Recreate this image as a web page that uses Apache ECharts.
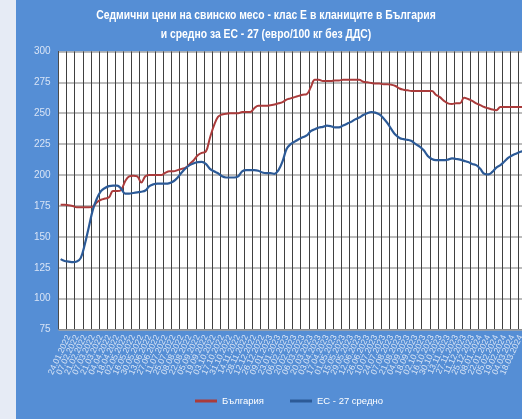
<!DOCTYPE html>
<html>
<head>
<meta charset="utf-8">
<script src="https://cdn.jsdelivr.net/npm/echarts@6/dist/echarts.min.js"></script>
<style>
  html, body { margin: 0; padding: 0; background: #e6ebf5; overflow: hidden; width: 522px; height: 419px; position: relative; }
  /* chart is wider than the window: the plot runs past the right edge, as in the source picture */
  #chart { position: absolute; left: 16px; top: 0; width: 519px; height: 419px; }
</style>
</head>
<body>
<div id="chart"></div>
<script>
// weekly dates, labels shown every second week
var weeks = [
  '10.01.2022','17.01.2022','24.01.2022','31.01.2022','07.02.2022','14.02.2022','21.02.2022','28.02.2022',
  '07.03.2022','14.03.2022','21.03.2022','28.03.2022','04.04.2022','11.04.2022','18.04.2022','25.04.2022',
  '02.05.2022','09.05.2022','16.05.2022','23.05.2022','30.05.2022','06.06.2022','13.06.2022','20.06.2022',
  '27.06.2022','04.07.2022','11.07.2022','18.07.2022','25.07.2022','01.08.2022','08.08.2022','15.08.2022',
  '22.08.2022','29.08.2022','05.09.2022','12.09.2022','19.09.2022','26.09.2022','03.10.2022','10.10.2022',
  '17.10.2022','24.10.2022','31.10.2022','07.11.2022','14.11.2022','21.11.2022','28.11.2022','05.12.2022',
  '12.12.2022','19.12.2022','26.12.2022',
  '02.01.2023','09.01.2023','16.01.2023','23.01.2023','30.01.2023','06.02.2023','13.02.2023','20.02.2023',
  '27.02.2023','06.03.2023','13.03.2023','20.03.2023','27.03.2023','03.04.2023','10.04.2023','17.04.2023',
  '24.04.2023','01.05.2023','08.05.2023','15.05.2023','22.05.2023','29.05.2023','05.06.2023','12.06.2023',
  '19.06.2023','26.06.2023','03.07.2023','10.07.2023','17.07.2023','24.07.2023','31.07.2023','07.08.2023',
  '14.08.2023','21.08.2023','28.08.2023','04.09.2023','11.09.2023','18.09.2023','25.09.2023','02.10.2023',
  '09.10.2023','16.10.2023','23.10.2023','30.10.2023','06.11.2023','13.11.2023','20.11.2023','27.11.2023',
  '04.12.2023','11.12.2023','18.12.2023','25.12.2023',
  '01.01.2024','08.01.2024','15.01.2024','22.01.2024','29.01.2024','05.02.2024','12.02.2024','19.02.2024',
  '26.02.2024','04.03.2024','11.03.2024','18.03.2024','25.03.2024','01.04.2024','08.04.2024'
];

var bulgaria = [
  176, 176, 175.5, 175, 174, 174, 174, 174, 174.5, 178,
  180, 181, 182, 187, 187, 188, 195, 199, 199.5, 199,
  194, 199, 200, 200, 200, 200, 202, 203, 203, 204,
  205, 206, 209, 212, 216, 218, 219, 230, 240, 247,
  249, 249.5, 250, 250, 250, 251, 251, 251, 254, 256,
  256, 256, 256.5, 257, 258, 259, 261, 262, 263, 264,
  265, 265.5, 271, 277, 277, 276, 276, 276, 276.5, 276.5,
  277, 277, 277, 277, 277, 275.5, 275, 274.5, 274, 274,
  273.5, 273.5, 273, 272, 270, 269, 268.5, 268, 268, 268,
  268, 268, 268, 265, 263, 260, 258, 257.5, 258, 258,
  262.5, 261.5, 260, 258, 256.5, 255, 254, 253, 252.5, 255,
  255, 255, 255, 255, 255, 255, 255, 255
];

var eu27 = [
  132, 130.5, 130, 129.5, 130, 133, 144, 158, 172, 181,
  187, 189.5, 191, 191.5, 191.5, 189, 185, 185, 185.5, 186,
  186.5, 187.5, 191, 192.5, 193, 193, 193, 193.5, 195, 198,
  202, 205.5, 208, 209.5, 210.5, 210.7, 209, 205, 203, 201.5,
  199, 198, 198, 198, 199, 203, 204, 204, 204, 203.5,
  202, 201.5, 201.5, 201, 204, 211, 221, 225, 227, 229,
  230.5, 232, 235.5, 237, 238.5, 239, 240, 239.5, 238.5, 238.5,
  240, 241.5, 243, 245, 246.5, 248.5, 250, 251, 250.5, 249,
  246, 242, 237, 232.5, 230, 229, 228.5, 227.5, 225, 223,
  220, 215.5, 213, 212, 212, 212, 212.5, 213.5, 213, 212.5,
  211.5, 210.5, 209, 208, 205, 201, 200.5, 202.5, 206, 208,
  211, 214, 216, 217.5, 218.8, 219.5, 220, 220.5
];

var yTicks = { min: 75, max: 300, step: 25 };

var titleText = 'Седмични цени на свинско месо - клас Е в кланиците в България\nи средно за ЕС - 27 (евро/100 кг без ДДС)';

var font = "'Liberation Sans', Arial, sans-serif";

var chart = echarts.init(document.getElementById('chart'));

var option = {
  backgroundColor: '#558ed5',
  animation: false,
  // title drawn as graphic so it can be squeezed like a narrow font
  graphic: [{
    type: 'text',
    x: 250,
    y: 6,
    scaleX: 0.83,
    style: {
      text: titleText,
      fill: '#ffffff',
      font: 'bold 12.5px ' + font,
      textAlign: 'center',
      lineHeight: 19
    }
  }],
  legend: {
    left: 179,
    top: 396,
    padding: 0,
    icon: 'rect',
    itemWidth: 22,
    itemHeight: 3,
    itemGap: 26,
    textStyle: { color: '#ffffff', fontFamily: font, fontSize: 9.5 },
    data: ['България', 'ЕС - 27 средно']
  },
  grid: {
    show: true,
    backgroundColor: '#ffffff',
    borderWidth: 0,
    left: 42.6,
    top: 51.4,
    bottom: 89.4,
    right: 0.3
  },
  xAxis: {
    type: 'category',
    data: weeks,
    boundaryGap: true,
    axisLine: { show: true, lineStyle: { color: '#8c8c8c', width: 1 } },
    axisTick: { show: false },
    axisLabel: {
      interval: 1,
      rotate: 65,
      margin: 6,
      fontSize: 8.5,
      color: '#dbe6f6',
      fontFamily: font
    },
    splitLine: {
      show: true,
      interval: 1,
      lineStyle: { color: '#404040', width: 1 }
    }
  },
  yAxis: {
    type: 'value',
    min: yTicks.min,
    max: yTicks.max,
    interval: yTicks.step,
    axisLine: { show: true, lineStyle: { color: '#4a4a4a', width: 1 } },
    axisTick: { show: false },
    axisLabel: {
      margin: 8,
      fontSize: 10,
      color: '#d8e4f6',
      fontFamily: font
    },
    splitLine: { lineStyle: { color: '#a6a6a6', width: 1.5 } }
  },
  series: [
    {
      name: 'България',
      type: 'line',
      data: bulgaria,
      symbol: 'none',
      smooth: 0.4,
      itemStyle: { color: '#aa3b3b' },
      lineStyle: { color: '#aa3b3b', width: 2 },
      z: 3
    },
    {
      name: 'ЕС - 27 средно',
      type: 'line',
      data: eu27,
      symbol: 'none',
      smooth: 0.4,
      itemStyle: { color: '#2c5a97' },
      lineStyle: { color: '#2c5a97', width: 2.2 },
      z: 4
    }
  ]
};

chart.setOption(option);
</script>
</body>
</html>
